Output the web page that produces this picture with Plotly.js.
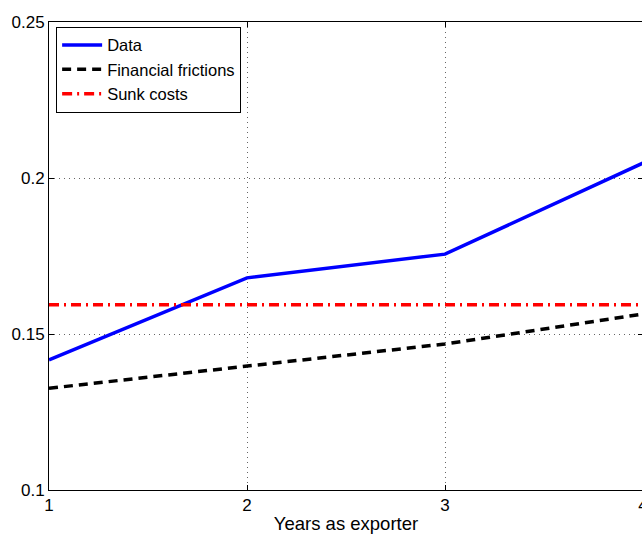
<!DOCTYPE html>
<html><head><meta charset="utf-8">
<script src="https://cdn.plot.ly/plotly-3.0.1.min.js"></script>
<style>html,body{margin:0;padding:0;overflow:hidden;background:#fff;}#chart{width:660px;height:535px;}</style>
</head><body><div id="chart"></div>
<script>
const years = [1, 2, 3, 4];
const dataSeries = [0.1417, 0.168, 0.1756, 0.2048];
const financialFrictions = [0.1326, 0.1397, 0.1468, 0.1564];
const sunkCosts = [0.1594, 0.1594, 0.1594, 0.1594];
const yTicks = [0.1, 0.15, 0.2, 0.25];
const yTickLabels = ['0.1', '0.15', '0.2', '0.25'];
const xTicks = [1, 2, 3, 4];

const font = 'Liberation Sans, Arial, Helvetica, sans-serif';
const traces = [
  {x: years, y: dataSeries, name: 'Data', mode: 'lines', line: {color: '#0000ff', width: 3.5}},
  {x: years, y: financialFrictions, name: 'Financial frictions', mode: 'lines', line: {color: '#000000', width: 3.5, dash: '9px,6px'}},
  {x: years, y: sunkCosts, name: 'Sunk costs', mode: 'lines', line: {color: '#ff0000', width: 3.5, dash: '10px,5px,2px,5px'}}
];
const layout = {
  width: 660, height: 535,
  margin: {l: 49, r: 17, t: 22, b: 45},
  paper_bgcolor: '#fff', plot_bgcolor: '#fff',
  font: {family: font, size: 17, color: '#000'},
  showlegend: true,
  legend: {x: 0.012, y: 0.99, xanchor: 'left', yanchor: 'top', bgcolor: '#fff', bordercolor: '#000', borderwidth: 1,
    font: {family: font, size: 16.5}, tracegroupgap: 0, itemwidth: 40},
  xaxis: {range: [1, 4], tickvals: xTicks, ticktext: xTicks.map(String), ticks: 'inside', ticklen: 5, tickcolor: '#000',
    showline: true, linecolor: '#000', linewidth: 1, mirror: 'ticks', zeroline: false,
    showgrid: true, gridcolor: '#666', griddash: '1px,4px', gridwidth: 1,
    tickfont: {family: font, size: 17}, title: {text: 'Years as exporter', font: {family: font, size: 18.5}, standoff: 2}},
  yaxis: {range: [0.1, 0.25], tickvals: yTicks, ticktext: yTickLabels, ticks: 'inside', ticklen: 5, tickcolor: '#000',
    showline: true, linecolor: '#000', linewidth: 1, mirror: 'ticks', zeroline: false,
    showgrid: true, gridcolor: '#666', griddash: '1px,4px', gridwidth: 1,
    tickfont: {family: font, size: 17}}
};
Plotly.newPlot('chart', traces, layout, {displayModeBar: false, staticPlot: true});
</script></body></html>
